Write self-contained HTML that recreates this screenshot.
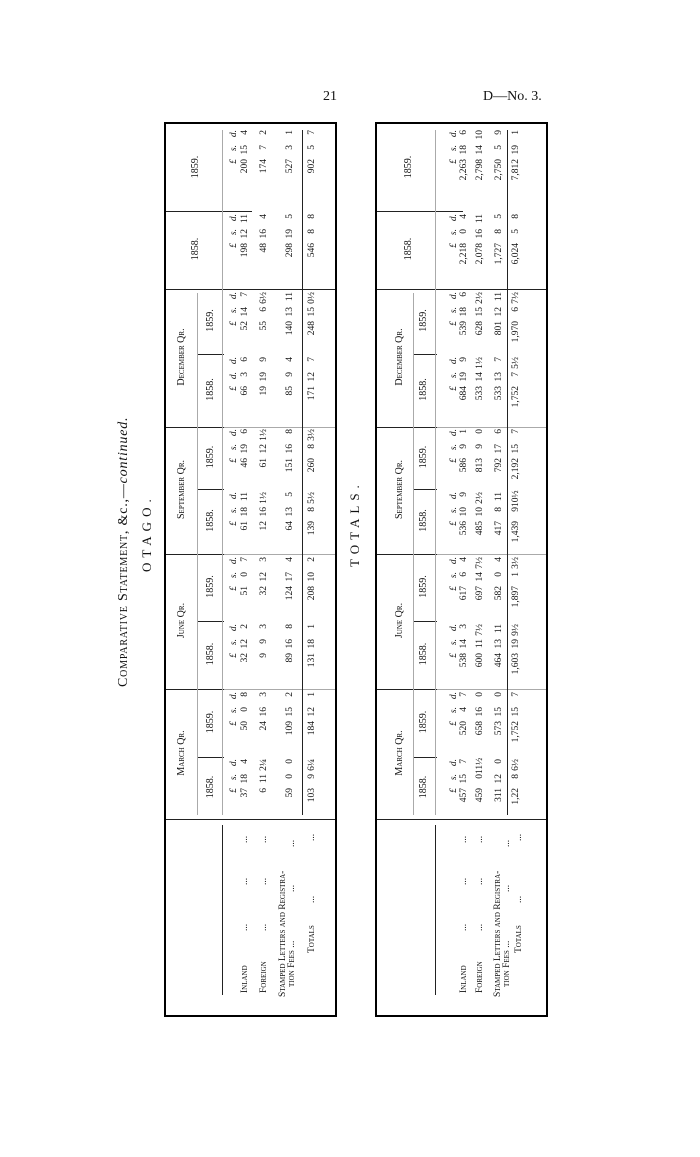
<!DOCTYPE html>
<html><head><meta charset="utf-8">
<style>
html,body{margin:0;padding:0;background:#fff;}
body{width:700px;height:1157px;position:relative;overflow:hidden;font-family:"Liberation Serif",serif;color:#111;}
#land{position:absolute;left:0;top:0;width:1157px;height:700px;transform-origin:0 0;transform:translate(0,1157px) rotate(-90deg);}
.abs{position:absolute;white-space:nowrap;}
.tbl{position:absolute;left:140px;width:891px;height:169px;border:2px solid #000;}
.t1{top:164px;}
.t2{top:375px;}
.ln{position:absolute;background:#222;}
.lg{position:absolute;background:#aaa;}
.h{position:absolute;text-align:center;font-size:10px;line-height:12px;height:12px;}
.sc{font-variant:small-caps;}
.d{position:absolute;font-size:9.5px;line-height:12px;height:12px;text-align:right;white-space:nowrap;}
.d i{font-style:normal;display:inline-block;text-align:right;}
.r0 i{font-style:italic;}
.d i:nth-child(1){width:30px;}
.d i:nth-child(2){width:14px;}
.d i:nth-child(3){width:15px;}
.w i:nth-child(1){width:38px;}
.c1{left:197px;width:58px}.c2{left:259px;width:64px}.c3{left:327px;width:64px}.c4{left:395px;width:63px}
.c5{left:462px;width:61px}.c6{left:527px;width:58px}.c7{left:589px;width:69px}.c8{left:662px;width:61px}
.c9{left:727px;width:74px}.c10{left:805px;width:80px}
.t1 .r0{top:62px}.t1 .r1{top:73px}.t1 .r2{top:92px}.t1 .r3{top:118px}.t1 .r4{top:140px}
.t2 .r0{top:71px}.t2 .r1{top:81px}.t2 .r2{top:97px}.t2 .r3{top:116px}.t2 .r4{top:133px}
.lab{position:absolute;font-size:9.5px;line-height:10px;font-variant:small-caps;white-space:nowrap;}
</style></head><body>
<div class="abs" style="left:323px;top:89px;font-size:14px;">21</div>
<div class="abs" style="left:483px;top:89px;font-size:14px;">D—No. 3.</div>

<div id="land">
<div class="abs" style="left:470px;top:116px;font-size:14px;line-height:16px;letter-spacing:0.8px;"><span class="sc">Comparative Statement</span>, &amp;c.,—<i>continued.</i></div>
<div class="abs" style="left:585px;top:139px;font-size:13px;letter-spacing:5px;">OTAGO.</div>
<div class="abs" style="left:590px;top:347px;font-size:13px;letter-spacing:5px;">TOTALS.</div>

<!-- TABLE 1 -->
<div class="tbl t1">
<div class="ln" style="left:195px;top:0;width:1px;height:169px"></div>
<div class="ln" style="left:325px;top:0;width:1px;height:58px"></div><div class="lg" style="left:325px;top:58px;width:1px;height:111px"></div>
<div class="ln" style="left:460px;top:0;width:1px;height:58px"></div><div class="lg" style="left:460px;top:58px;width:1px;height:111px"></div>
<div class="ln" style="left:587px;top:0;width:1px;height:58px"></div><div class="lg" style="left:587px;top:58px;width:1px;height:111px"></div>
<div class="ln" style="left:725px;top:0;width:1px;height:169px"></div>
<div class="ln" style="left:803px;top:0;width:1px;height:86px"></div>
<div class="ln" style="left:257px;top:31px;width:1px;height:27px"></div>
<div class="ln" style="left:393px;top:31px;width:1px;height:27px"></div>
<div class="ln" style="left:525px;top:31px;width:1px;height:27px"></div>
<div class="ln" style="left:660px;top:31px;width:1px;height:27px"></div>
<div class="lg" style="left:200px;top:31px;width:522px;height:1px"></div>
<div class="ln" style="left:20px;top:56px;width:170px;height:1px"></div>
<div class="lg" style="left:200px;top:56px;width:685px;height:1px"></div>
<div class="ln" style="left:200px;top:136px;width:685px;height:1px"></div>

<div class="h sc" style="left:197px;width:130px;top:10px">March Qr.</div>
<div class="h sc" style="left:327px;width:135px;top:10px">June Qr.</div>
<div class="h sc" style="left:462px;width:127px;top:10px">September Qr.</div>
<div class="h sc" style="left:589px;width:138px;top:10px">December Qr.</div>
<div class="h" style="left:197px;width:62px;top:39px">1858.</div>
<div class="h" style="left:259px;width:68px;top:39px">1859.</div>
<div class="h" style="left:327px;width:68px;top:39px">1858.</div>
<div class="h" style="left:395px;width:67px;top:39px">1859.</div>
<div class="h" style="left:462px;width:65px;top:39px">1858.</div>
<div class="h" style="left:527px;width:62px;top:39px">1859.</div>
<div class="h" style="left:589px;width:73px;top:39px">1858.</div>
<div class="h" style="left:662px;width:65px;top:39px">1859.</div>
<div class="h" style="left:727px;width:78px;top:24px">1858.</div>
<div class="h" style="left:805px;width:86px;top:24px">1859.</div>

<div class="lab" style="left:22px;top:74px">Inland<span style="position:absolute;left:62px">...</span><span style="position:absolute;left:108px">...</span><span style="position:absolute;left:150px">...</span></div>
<div class="lab" style="left:22px;top:93px">Foreign<span style="position:absolute;left:62px">...</span><span style="position:absolute;left:108px">...</span><span style="position:absolute;left:150px">...</span></div>
<div class="lab" style="left:18px;top:112px">Stamped Letters and Registra-</div>
<div class="lab" style="left:28px;top:121px">tion Fees ...<span style="position:absolute;left:95px">...</span><span style="position:absolute;left:140px">...</span></div>
<div class="lab" style="left:62px;top:141px">Totals<span style="position:absolute;left:50px">...</span><span style="position:absolute;left:112px">...</span></div>

<div class="d c1 r0"><i>£</i><i>s.</i><i>d.</i></div><div class="d c2 r0"><i>£</i><i>s.</i><i>d.</i></div>
<div class="d c3 r0"><i>£</i><i>s.</i><i>d.</i></div><div class="d c4 r0"><i>£</i><i>s.</i><i>d.</i></div>
<div class="d c5 r0"><i>£</i><i>s.</i><i>d.</i></div><div class="d c6 r0"><i>£</i><i>s.</i><i>d.</i></div>
<div class="d c7 r0"><i>£</i><i>d.</i><i>d.</i></div><div class="d c8 r0"><i>£</i><i>s.</i><i>d.</i></div>
<div class="d w c9 r0"><i>£</i><i>s.</i><i>d.</i></div><div class="d w c10 r0"><i>£</i><i>s.</i><i>d.</i></div>

<div class="d c1 r1"><i>37</i><i>18</i><i>4</i></div><div class="d c1 r2"><i>6</i><i>11</i><i>2¼</i></div><div class="d c1 r3"><i>59</i><i>0</i><i>0</i></div><div class="d c1 r4"><i>103</i><i>9</i><i>6¼</i></div>
<div class="d c2 r1"><i>50</i><i>0</i><i>8</i></div><div class="d c2 r2"><i>24</i><i>16</i><i>3</i></div><div class="d c2 r3"><i>109</i><i>15</i><i>2</i></div><div class="d c2 r4"><i>184</i><i>12</i><i>1</i></div>
<div class="d c3 r1"><i>32</i><i>12</i><i>2</i></div><div class="d c3 r2"><i>9</i><i>9</i><i>3</i></div><div class="d c3 r3"><i>89</i><i>16</i><i>8</i></div><div class="d c3 r4"><i>131</i><i>18</i><i>1</i></div>
<div class="d c4 r1"><i>51</i><i>0</i><i>7</i></div><div class="d c4 r2"><i>32</i><i>12</i><i>3</i></div><div class="d c4 r3"><i>124</i><i>17</i><i>4</i></div><div class="d c4 r4"><i>208</i><i>10</i><i>2</i></div>
<div class="d c5 r1"><i>61</i><i>18</i><i>11</i></div><div class="d c5 r2"><i>12</i><i>16</i><i>1½</i></div><div class="d c5 r3"><i>64</i><i>13</i><i>5</i></div><div class="d c5 r4"><i>139</i><i>8</i><i>5½</i></div>
<div class="d c6 r1"><i>46</i><i>19</i><i>6</i></div><div class="d c6 r2"><i>61</i><i>12</i><i>1½</i></div><div class="d c6 r3"><i>151</i><i>16</i><i>8</i></div><div class="d c6 r4"><i>260</i><i>8</i><i>3½</i></div>
<div class="d c7 r1"><i>66</i><i>3</i><i>6</i></div><div class="d c7 r2"><i>19</i><i>19</i><i>9</i></div><div class="d c7 r3"><i>85</i><i>9</i><i>4</i></div><div class="d c7 r4"><i>171</i><i>12</i><i>7</i></div>
<div class="d c8 r1"><i>52</i><i>14</i><i>7</i></div><div class="d c8 r2"><i>55</i><i>6</i><i>6½</i></div><div class="d c8 r3"><i>140</i><i>13</i><i>11</i></div><div class="d c8 r4"><i>248</i><i>15</i><i>0½</i></div>
<div class="d w c9 r1"><i>198</i><i>12</i><i>11</i></div><div class="d w c9 r2"><i>48</i><i>16</i><i>4</i></div><div class="d w c9 r3"><i>298</i><i>19</i><i>5</i></div><div class="d w c9 r4"><i>546</i><i>8</i><i>8</i></div>
<div class="d w c10 r1"><i>200</i><i>15</i><i>4</i></div><div class="d w c10 r2"><i>174</i><i>7</i><i>2</i></div><div class="d w c10 r3"><i>527</i><i>3</i><i>1</i></div><div class="d w c10 r4"><i>902</i><i>5</i><i>7</i></div>
</div>

<!-- TABLE 2 -->
<div class="tbl t2">
<div class="ln" style="left:195px;top:0;width:1px;height:169px"></div>
<div class="ln" style="left:325px;top:0;width:1px;height:60px"></div><div class="lg" style="left:325px;top:60px;width:1px;height:109px"></div>
<div class="ln" style="left:460px;top:0;width:1px;height:60px"></div><div class="lg" style="left:460px;top:60px;width:1px;height:109px"></div>
<div class="ln" style="left:587px;top:0;width:1px;height:60px"></div><div class="lg" style="left:587px;top:60px;width:1px;height:109px"></div>
<div class="ln" style="left:725px;top:0;width:1px;height:169px"></div>
<div class="ln" style="left:803px;top:0;width:1px;height:86px"></div>
<div class="ln" style="left:257px;top:36px;width:1px;height:24px"></div>
<div class="ln" style="left:393px;top:36px;width:1px;height:24px"></div>
<div class="ln" style="left:525px;top:36px;width:1px;height:24px"></div>
<div class="ln" style="left:660px;top:36px;width:1px;height:24px"></div>
<div class="lg" style="left:200px;top:36px;width:522px;height:1px"></div>
<div class="ln" style="left:20px;top:58px;width:170px;height:1px"></div>
<div class="lg" style="left:200px;top:58px;width:685px;height:1px"></div>
<div class="ln" style="left:200px;top:130px;width:685px;height:1px"></div>

<div class="h sc" style="left:197px;width:130px;top:17px">March Qr.</div>
<div class="h sc" style="left:327px;width:135px;top:17px">June Qr.</div>
<div class="h sc" style="left:462px;width:127px;top:17px">September Qr.</div>
<div class="h sc" style="left:589px;width:138px;top:17px">December Qr.</div>
<div class="h" style="left:197px;width:62px;top:41px">1858.</div>
<div class="h" style="left:259px;width:68px;top:41px">1859.</div>
<div class="h" style="left:327px;width:68px;top:41px">1858.</div>
<div class="h" style="left:395px;width:67px;top:41px">1859.</div>
<div class="h" style="left:462px;width:65px;top:41px">1858.</div>
<div class="h" style="left:527px;width:62px;top:41px">1859.</div>
<div class="h" style="left:589px;width:73px;top:41px">1858.</div>
<div class="h" style="left:662px;width:65px;top:41px">1859.</div>
<div class="h" style="left:727px;width:78px;top:26px">1858.</div>
<div class="h" style="left:805px;width:86px;top:26px">1859.</div>

<div class="lab" style="left:22px;top:82px">Inland<span style="position:absolute;left:62px">...</span><span style="position:absolute;left:108px">...</span><span style="position:absolute;left:150px">...</span></div>
<div class="lab" style="left:22px;top:98px">Foreign<span style="position:absolute;left:62px">...</span><span style="position:absolute;left:108px">...</span><span style="position:absolute;left:150px">...</span></div>
<div class="lab" style="left:18px;top:116px">Stamped Letters and Registra-</div>
<div class="lab" style="left:28px;top:125px">tion Fees ...<span style="position:absolute;left:95px">...</span><span style="position:absolute;left:140px">...</span></div>
<div class="lab" style="left:62px;top:137px">Totals<span style="position:absolute;left:50px">...</span><span style="position:absolute;left:112px">...</span></div>

<div class="d c1 r0"><i>£</i><i>s.</i><i>d.</i></div><div class="d c2 r0"><i>£</i><i>s.</i><i>d.</i></div>
<div class="d c3 r0"><i>£</i><i>s.</i><i>d.</i></div><div class="d c4 r0"><i>£</i><i>s.</i><i>d.</i></div>
<div class="d c5 r0"><i>£</i><i>s.</i><i>d.</i></div><div class="d c6 r0"><i>£</i><i>s.</i><i>d.</i></div>
<div class="d c7 r0"><i>£</i><i>s.</i><i>d.</i></div><div class="d c8 r0"><i>£</i><i>s.</i><i>d.</i></div>
<div class="d w c9 r0"><i>£</i><i>s.</i><i>d.</i></div><div class="d w c10 r0"><i>£</i><i>s.</i><i>d.</i></div>

<div class="d c1 r1"><i>457</i><i>15</i><i>7</i></div><div class="d c1 r2"><i>459</i><i>0</i><i>11½</i></div><div class="d c1 r3"><i>311</i><i>12</i><i>0</i></div><div class="d c1 r4"><i>1,22</i><i>8</i><i>6½</i></div>
<div class="d c2 r1"><i>520</i><i>4</i><i>7</i></div><div class="d c2 r2"><i>658</i><i>16</i><i>0</i></div><div class="d c2 r3"><i>573</i><i>15</i><i>0</i></div><div class="d c2 r4"><i>1,752</i><i>15</i><i>7</i></div>
<div class="d c3 r1"><i>538</i><i>14</i><i>3</i></div><div class="d c3 r2"><i>600</i><i>11</i><i>7½</i></div><div class="d c3 r3"><i>464</i><i>13</i><i>11</i></div><div class="d c3 r4"><i>1,603</i><i>19</i><i>9½</i></div>
<div class="d c4 r1"><i>617</i><i>6</i><i>4</i></div><div class="d c4 r2"><i>697</i><i>14</i><i>7½</i></div><div class="d c4 r3"><i>582</i><i>0</i><i>4</i></div><div class="d c4 r4"><i>1,897</i><i>1</i><i>3½</i></div>
<div class="d c5 r1"><i>536</i><i>10</i><i>9</i></div><div class="d c5 r2"><i>485</i><i>10</i><i>2½</i></div><div class="d c5 r3"><i>417</i><i>8</i><i>11</i></div><div class="d c5 r4"><i>1,439</i><i>9</i><i>10½</i></div>
<div class="d c6 r1"><i>586</i><i>9</i><i>1</i></div><div class="d c6 r2"><i>813</i><i>9</i><i>0</i></div><div class="d c6 r3"><i>792</i><i>17</i><i>6</i></div><div class="d c6 r4"><i>2,192</i><i>15</i><i>7</i></div>
<div class="d c7 r1"><i>684</i><i>19</i><i>9</i></div><div class="d c7 r2"><i>533</i><i>14</i><i>1½</i></div><div class="d c7 r3"><i>533</i><i>13</i><i>7</i></div><div class="d c7 r4"><i>1,752</i><i>7</i><i>5½</i></div>
<div class="d c8 r1"><i>539</i><i>18</i><i>6</i></div><div class="d c8 r2"><i>628</i><i>15</i><i>2½</i></div><div class="d c8 r3"><i>801</i><i>12</i><i>11</i></div><div class="d c8 r4"><i>1,970</i><i>6</i><i>7½</i></div>
<div class="d w c9 r1"><i>2,218</i><i>0</i><i>4</i></div><div class="d w c9 r2"><i>2,078</i><i>16</i><i>11</i></div><div class="d w c9 r3"><i>1,727</i><i>8</i><i>5</i></div><div class="d w c9 r4"><i>6,024</i><i>5</i><i>8</i></div>
<div class="d w c10 r1"><i>2,263</i><i>18</i><i>6</i></div><div class="d w c10 r2"><i>2,798</i><i>14</i><i>10</i></div><div class="d w c10 r3"><i>2,750</i><i>5</i><i>9</i></div><div class="d w c10 r4"><i>7,812</i><i>19</i><i>1</i></div>
</div>
</div>
</body></html>
